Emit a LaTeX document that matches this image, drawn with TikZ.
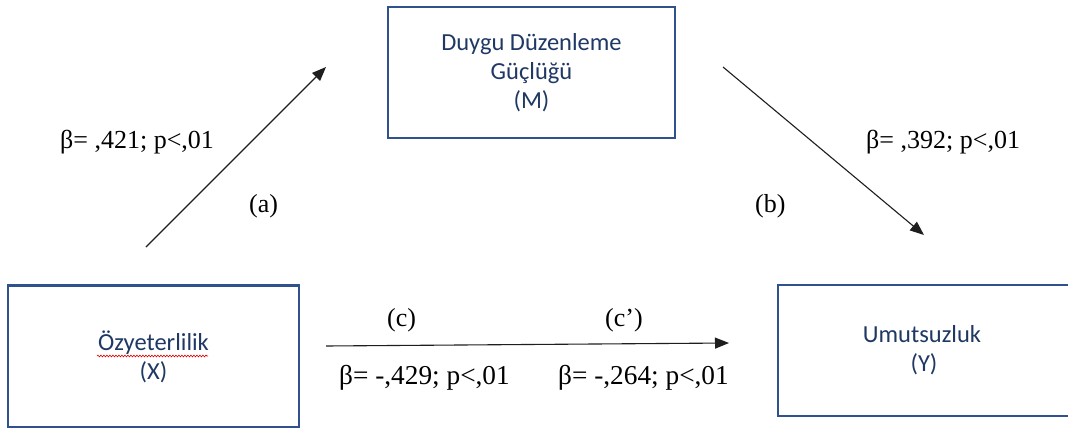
\documentclass[tikz,border=0pt]{standalone}
\usepackage{fontspec}
\setmainfont{Liberation Serif}
\newfontfamily\boxfont{Carlito}
\usetikzlibrary{arrows.meta,decorations.pathmorphing}
\definecolor{boxblue}{RGB}{47,82,143}
\definecolor{txtblue}{RGB}{31,56,100}
\definecolor{arrgray}{RGB}{30,30,30}
\tikzset{
  varbox/.style={draw=boxblue, line width=2.2pt, fill=white, align=center,
    text=txtblue, font=\boxfont\fontsize{24.5}{29}\selectfont, inner sep=0pt},
  lbl/.style={anchor=base west, inner sep=0pt, text=black,
    font=\fontsize{26}{31}\selectfont},
  biglbl/.style={lbl, font=\fontsize{27.3}{32}\selectfont},
  pathar/.style={draw=arrgray, line width=1.1pt,
    -{Triangle[length=14pt,width=11pt]}},
  squiggle/.style={draw=red!85!black, line width=0.6pt,
    decorate, decoration={snake, amplitude=0.9pt, segment length=3pt}}
}
\begin{document}
\begin{tikzpicture}[x=1pt,y=-1pt]
\clip (0,0) rectangle (1068,428);
\useasboundingbox (0,0) rectangle (1068,428);
\fill[white] (0,0) rectangle (1068,428);
% boxes
\node[varbox, minimum width=287pt, minimum height=131pt] (M) at (531.5,72.5)
  {Duygu Düzenleme\\Güçlüğü\\(M)};
\node[varbox, minimum width=291pt, minimum height=142pt] (X) at (153.5,356.5)
  {Özyeterlilik\\(X)};
\node[varbox, minimum width=292pt, minimum height=131pt] (Y) at (924,350.5)
  {\hspace*{-4pt}Umutsuzluk\\(Y)};
% spell-check squiggle
\coordinate (sq1) at (97,356);
\coordinate (sq2) at (208,356);
\draw[squiggle] (sq1) -- (sq2);
% arrow end points
\coordinate (a1) at (146,247);
\coordinate (a2) at (326,67);
\coordinate (b1) at (723,67);
\coordinate (b2) at (924,235);
\coordinate (c1) at (326,346);
\coordinate (c2) at (729,343);
\draw[pathar] (a1) -- (a2);
\draw[pathar] (b1) -- (b2);
\draw[pathar] (c1) -- (c2);
% labels
\node[lbl] (la) at (60,148) {β= ,421; p<,01};
\node[lbl] (lb) at (866,148) {β= ,392; p<,01};
\node[lbl] (pa) at (249,212) {(a)};
\node[lbl] (pb) at (755,212) {(b)};
\node[lbl] (pc) at (387,326) {(c)};
\node[lbl] (pcp) at (605,326) {(c’)};
\node[biglbl] (lc) at (339,384) {β= -,429; p<,01};
\node[biglbl] (lcp) at (558,384) {β= -,264; p<,01};
\end{tikzpicture}
\end{document}
